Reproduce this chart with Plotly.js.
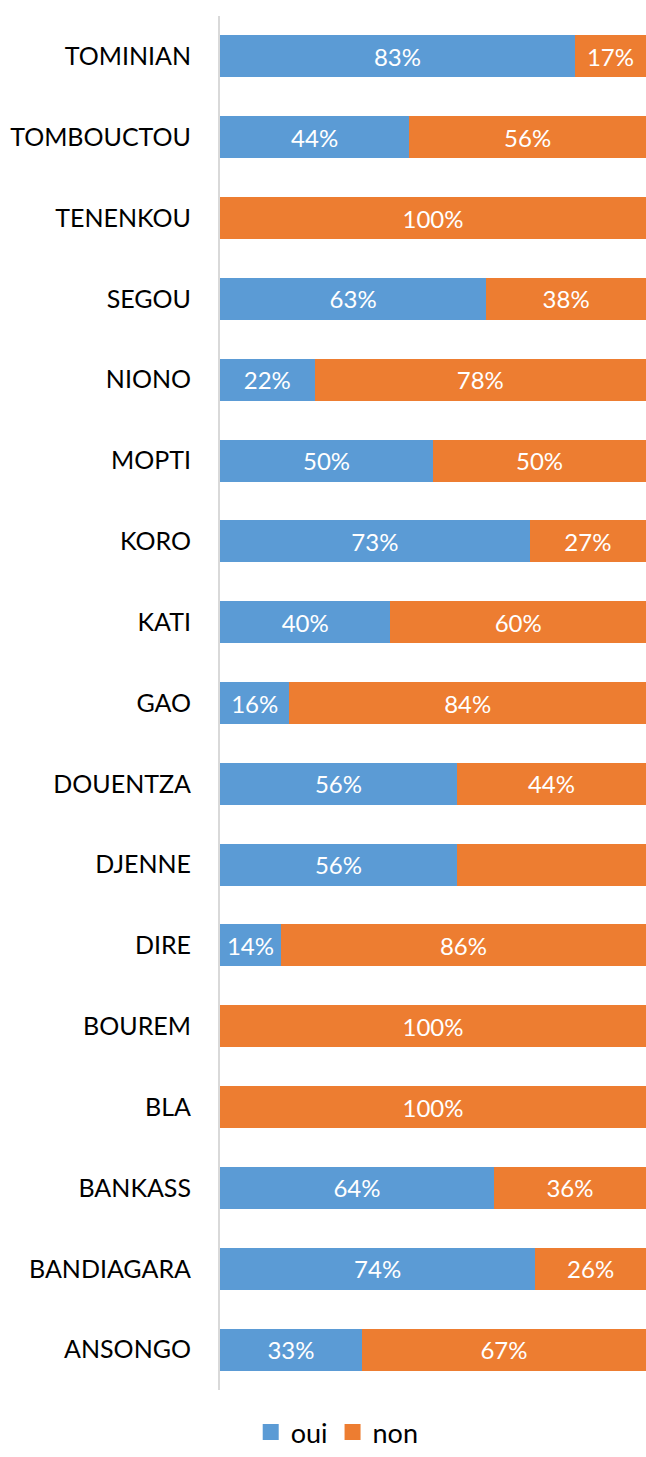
<!DOCTYPE html>
<html>
<head>
<meta charset="utf-8">
<script src="https://cdn.plot.ly/plotly-3.0.1.min.js"></script>
<style>html,body{margin:0;padding:0;background:#fff}#chart{width:646px;height:1457px}</style>
</head>
<body>
<div id="chart"></div>
<script>
const categories = ["TOMINIAN","TOMBOUCTOU","TENENKOU","SEGOU","NIONO","MOPTI","KORO","KATI","GAO","DOUENTZA","DJENNE","DIRE","BOUREM","BLA","BANKASS","BANDIAGARA","ANSONGO"];
const ouiValues = [83.3, 44.4, 0, 62.5, 22.2, 50, 72.7, 40, 16.3, 55.6, 55.6, 14.3, 0, 0, 64.3, 74, 33.3];
const nonValues = [16.7, 55.6, 100, 37.5, 77.8, 50, 27.3, 60, 83.7, 44.4, 44.4, 85.7, 100, 100, 35.7, 26, 66.7];
const ouiLabels = ["83%","44%","","63%","22%","50%","73%","40%","16%","56%","56%","14%","","","64%","74%","33%"];
const nonLabels = ["17%","56%","100%","38%","78%","50%","27%","60%","84%","44%","","86%","100%","100%","36%","26%","67%"];
const seriesNames = ["oui", "non"];
const seriesColors = ["#5B9BD5", "#ED7D31"];

const font = "Lato, 'Liberation Sans', sans-serif";
const common = {
  type: 'bar', orientation: 'h', y: categories,
  textposition: 'inside', insidetextanchor: 'middle',
  textfont: {family: font, size: 24, color: '#ffffff'},
  constraintext: 'none', hoverinfo: 'skip', cliponaxis: false, showlegend: false
};
const data = [
  Object.assign({}, common, {name: seriesNames[0], x: ouiValues, text: ouiLabels, marker: {color: seriesColors[0]}}),
  Object.assign({}, common, {name: seriesNames[1], x: nonValues, text: nonLabels, marker: {color: seriesColors[1]}})
];
seriesNames.forEach(function (n, i) {
  data.push({type: 'scatter', mode: 'markers', name: n, x: [null], y: [null], showlegend: true, hoverinfo: 'skip',
             marker: {symbol: 'square', size: 17, color: seriesColors[i], line: {width: 0}}});
});
const layout = {
  width: 646, height: 1457,
  margin: {l: 220, r: 0, t: 16, b: 67},
  barmode: 'stack', bargap: 0.48,
  paper_bgcolor: '#ffffff', plot_bgcolor: '#ffffff',
  font: {family: font, size: 25, color: '#000000'},
  xaxis: {range: [0, 100], showgrid: false, zeroline: false, showticklabels: false, showline: false, fixedrange: true, automargin: false},
  yaxis: {autorange: 'reversed', showline: true, linecolor: '#D9D9D9', linewidth: 2, ticks: '', ticklabelstandoff: 22, automargin: false,
          tickfont: {family: font, size: 25, color: '#000000'}, showgrid: false, zeroline: false},
  showlegend: true,
  legend: {orientation: 'h', x: 0.522, xref: 'container', xanchor: 'center', y: 0, yref: 'container', yanchor: 'bottom',
           font: {family: font, size: 27, color: '#000000'}, traceorder: 'normal', itemsizing: 'trace', itemwidth: 30},
  uniformtext: {mode: false}
};
Plotly.newPlot('chart', data, layout, {displayModeBar: false, staticPlot: true});
</script>
</body>
</html>
